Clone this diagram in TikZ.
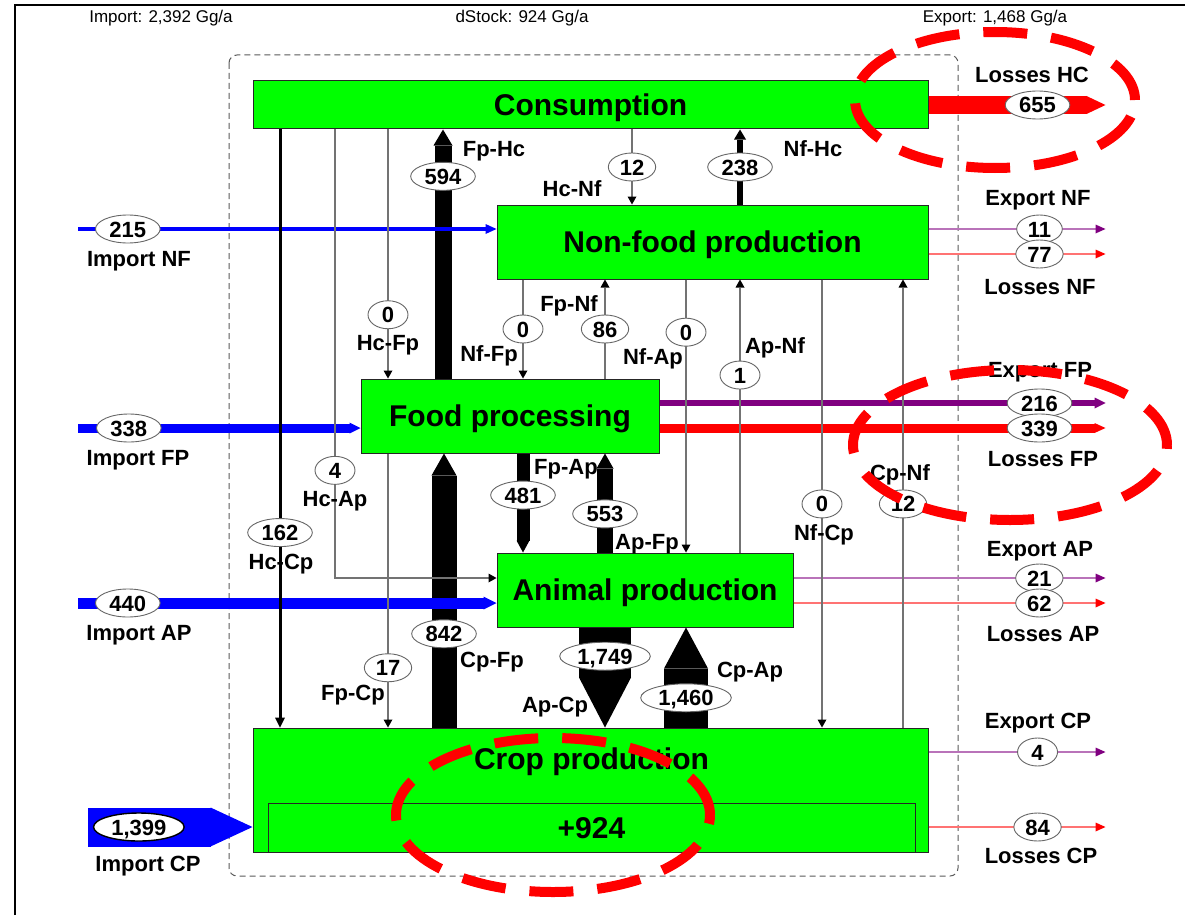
\documentclass[tikz,border=0pt]{standalone}
\usepackage{fontspec}
\setmainfont{Liberation Sans}
\usetikzlibrary{arrows.meta}
\usetikzlibrary{shapes.geometric}
\usetikzlibrary{positioning}

\definecolor{boxgreen}{RGB}{0,255,0}
\definecolor{flowblue}{RGB}{0,0,255}
\definecolor{flowpurple}{RGB}{128,0,128}
\definecolor{flowred}{RGB}{255,0,0}
\definecolor{linegray}{RGB}{115,115,115}

\tikzstyle{block} = [draw=black!85, fill=boxgreen, rectangle, line width=1pt,
text height=21.5pt, text depth=0pt, font=\fontsize{30}{34}\selectfont\bfseries]
\tikzstyle{val} = [draw=black!60, fill=white, ellipse, line width=0.9pt,
inner xsep=4.5pt, inner ysep=0pt, minimum width=40pt, minimum height=28pt,
text height=16pt, text depth=0pt, font=\fontsize{22}{24}\selectfont\bfseries]
\tikzstyle{lbl} = [inner sep=0pt, text height=15.8pt, text depth=0pt,
font=\fontsize{22}{24}\selectfont\bfseries]
\tikzstyle{hdr} = [inner sep=0pt, font=\fontsize{17}{20}\selectfont]
\tikzstyle{sysframe} = [draw=black!65, line width=1pt, dash pattern=on 6pt off 4pt, rounded corners=8pt]
\tikzstyle{thinflow} = [draw=linegray, line width=1.2pt, -{Triangle[length=8pt,width=9pt,color=black,line width=0pt]}]
\tikzstyle{annot} = [draw=flowred, line width=10pt, dash pattern=on 44pt off 24pt]
\tikzset{
  flow/.style n args={4}{draw=#1, line width=#2, -{Triangle[length=#3,width=#4,line width=0pt]}},
  outflow/.style={draw=#1!55, line width=1.5pt, -{Triangle[length=10pt,width=9pt,color=#1,line width=0pt]}}
}

\begin{document}
\begin{tikzpicture}[x=1pt, y=-1pt]
	\useasboundingbox (0,0) rectangle (1185,915);
	\draw[line width=1.5pt] (15,915) -- (15,5) -- (1185,5);
	\node[hdr] (imptot) at (161,18) {Import: 2,392 Gg/a};
	\node[hdr] (dstock) at (522,18) {dStock: 924 Gg/a};
	\node[hdr] (exptot) at (995,18) {Export: 1,468 Gg/a};
	\draw[sysframe] (229,55) rectangle (958,876);

	% sectors
	\node [block, minimum width=675pt, minimum height=48pt] (cons) at (590.5,105) {Consumption};
	\node [block, minimum width=431pt, minimum height=74pt] (nf) at (712.5,242) {Non-food production};
	\node [block, minimum width=298pt, minimum height=74pt] (fp) at (510,416) {Food processing};
	\node [block, minimum width=296pt, minimum height=74pt] (ap) at (645,590) {Animal production};
	\node [block, minimum width=675pt, minimum height=124pt] (cp) at (590.5,790) {};
	\node [block, draw=none, fill=none, inner sep=0pt] (cptitle) at (591.5,759) {Crop production};
	\node [block, minimum width=647pt, minimum height=49pt] (stock) at (591.5,827.5) {+924};

	\coordinate (srcNF) at (78,229);
	\coordinate (srcFP) at (78,428);
	\coordinate (srcAP) at (78,603);
	\coordinate (srcCP) at (88,827);

	% exports and losses
	\draw [flow={flowred}{18pt}{19pt}{18pt}] (cons.east) -- ++(177,0) node[val, pos=0.616] (v655) {655};
	\draw [outflow=flowpurple] ([yshift=13pt]nf.east) -- ++(177,0) node[val, pos=0.627] (v11) {11};
	\draw [outflow=flowred] ([yshift=-12pt]nf.east) -- ++(177,0) node[val, pos=0.627] (v77) {77};
	\draw [flow={flowpurple}{5.5pt}{11pt}{11pt}] ([yshift=13pt]fp.east) -- ++(446,0) node[val, pos=0.852] (v216) {216};
	\draw [flow={flowred}{9pt}{11pt}{10pt}] ([yshift=-12pt]fp.east) -- ++(446,0) node[val, pos=0.852] (v339) {339};
	\draw [outflow=flowpurple] ([yshift=12pt]ap.east) -- ++(312,0) node[val, pos=0.788] (v21) {21};
	\draw [outflow=flowred] ([yshift=-13pt]ap.east) -- ++(312,0) node[val, pos=0.788] (v62) {62};
	\draw [outflow=flowpurple] ([yshift=38pt]cp.east) -- ++(177,0) node[val, pos=0.616] (v4cp) {4};
	\draw [outflow=flowred] ([yshift=-37pt]cp.east) -- ++(177,0) node[val, pos=0.616] (v84) {84};

	% thick flows
	\draw [flow={black}{17pt}{16pt}{19pt}] (443,0 |- fp.north) -- (443,0 |- cons.south) node[val, pos=0.812] (v594) {594};
	\draw [flow={black}{25pt}{22pt}{25pt}] (444,0 |- cp.north) -- (444,0 |- fp.south) node[val, pos=0.342] (v842) {842};
	\draw [flow={black}{13pt}{12pt}{13pt}] (523,0 |- fp.south) -- (523,0 |- ap.north) node[val, pos=0.42] (v481) {481};
	\draw [flow={black}{16pt}{15pt}{17pt}] (605,0 |- ap.north) -- (605,0 |- fp.south) node[val, pos=0.39] (v553) {553};
	\draw [flow={black}{52pt}{50pt}{52pt}] (605,0 |- ap.south) -- (605,0 |- cp.north) node[val, pos=0.287] (v1749) {1,749};
	\draw [flow={black}{44pt}{41pt}{44pt}] (686,0 |- cp.north) -- (686,0 |- ap.south) node[val, pos=0.297] (v1460) {1,460};

	% imports
	\draw [flow={flowblue}{4pt}{11pt}{10pt}] (srcNF) -- ([yshift=13pt]nf.west) node[val, pos=0.119] (v215) {215};
	\draw [flow={flowblue}{9pt}{11pt}{11pt}] (srcFP) -- ([yshift=-12pt]fp.west) node[val, pos=0.18] (v338) {338};
	\draw [flow={flowblue}{11pt}{13pt}{13pt}] (srcAP) -- ([yshift=-13pt]ap.west) node[val, pos=0.119] (v440) {440};
	\draw [flow={flowblue}{39pt}{42pt}{39pt}] (srcCP) -- ([yshift=-37pt]cp.west) node[val, draw=black, line width=1.4pt, pos=0.309] (v1399) {1,399};

	% thin flows
	\draw [flow={black}{6pt}{10pt}{12pt}] (740,0 |- nf.north) -- (740,0 |- cons.south) node[val, pos=0.5] (v238) {238};
	\draw [flow={black}{3pt}{10pt}{10pt}] (280,0 |- cons.south) -- (280,0 |- cp.north) node[val, pos=0.674] (v162) {162};
	\draw [thinflow] (335,0 |- cons.south) |- ([yshift=12pt]ap.west) node[val, pos=0.38] (v4) {4};
	\draw [thinflow] (388,0 |- cons.south) -- (388,0 |- fp.north) node[val, pos=0.744] (v0hf) {0};
	\draw [thinflow] (632,0 |- cons.south) -- (632,0 |- nf.north) node[val, pos=0.5] (v12hn) {12};
	\draw [thinflow] (523,0 |- nf.south) -- (523,0 |- fp.north) node[val, pos=0.5] (v0nf) {0};
	\draw [thinflow] (605,0 |- fp.north) -- (605,0 |- nf.south) node[val, pos=0.5] (v86) {86};
	\draw [thinflow] (686,0 |- nf.south) -- (686,0 |- ap.north) node[val, pos=0.193] (v0na) {0};
	\draw [thinflow] (740,0 |- ap.north) -- (740,0 |- nf.south) node[val, pos=0.65] (v1) {1};
	\draw [thinflow] (822,0 |- nf.south) -- (822,0 |- cp.north) node[val, pos=0.501] (v0nc) {0};
	\draw [thinflow] (903,0 |- cp.north) -- (903,0 |- nf.south) node[val, pos=0.499] (v12cn) {12};
	\draw [thinflow] (388,0 |- fp.south) -- (388,0 |- cp.north) node[val, pos=0.782] (v17) {17};

	% flow names
	\node [lbl] at (494,149) {Fp-Hc};
	\node [lbl] at (572,189) {Hc-Nf};
	\node [lbl] at (813,149) {Nf-Hc};
	\node [lbl] at (388,343) {Hc-Fp};
	\node [lbl] at (489,354) {Nf-Fp};
	\node [lbl] at (569,304) {Fp-Nf};
	\node [lbl] at (653,357) {Nf-Ap};
	\node [lbl] at (775,346) {Ap-Nf};
	\node [lbl] at (335,499) {Hc-Ap};
	\node [lbl] at (281,562) {Hc-Cp};
	\node [lbl] at (566,467) {Fp-Ap};
	\node [lbl] at (647,542) {Ap-Fp};
	\node [lbl] at (824,533) {Nf-Cp};
	\node [lbl] at (900,473) {Cp-Nf};
	\node [lbl] at (492,660) {Cp-Fp};
	\node [lbl] at (353,693) {Fp-Cp};
	\node [lbl] at (555,705) {Ap-Cp};
	\node [lbl] at (750,670) {Cp-Ap};

	\node [lbl] at (139,259) {Import NF};
	\node [lbl] at (138,458) {Import FP};
	\node [lbl] at (139,633) {Import AP};
	\node [lbl] at (148,864) {Import CP};
	\node [lbl] at (1032,75) {Losses HC};
	\node [lbl] at (1038,198) {Export NF};
	\node [lbl] at (1040,287) {Losses NF};
	\node [lbl] at (1040,370) {Export FP};
	\node [lbl] at (1043,459) {Losses FP};
	\node [lbl] at (1040,549) {Export AP};
	\node [lbl] at (1043,634) {Losses AP};
	\node [lbl] at (1038,721) {Export CP};
	\node [lbl] at (1041,856) {Losses CP};

	% marks
	\draw [annot] (995,100) ellipse [x radius=140pt, y radius=68pt];
	\draw [annot] (1010,445) ellipse [x radius=157pt, y radius=75pt];
	\draw [annot] (553,815) ellipse [x radius=157pt, y radius=77pt];
\end{tikzpicture}
\end{document}
